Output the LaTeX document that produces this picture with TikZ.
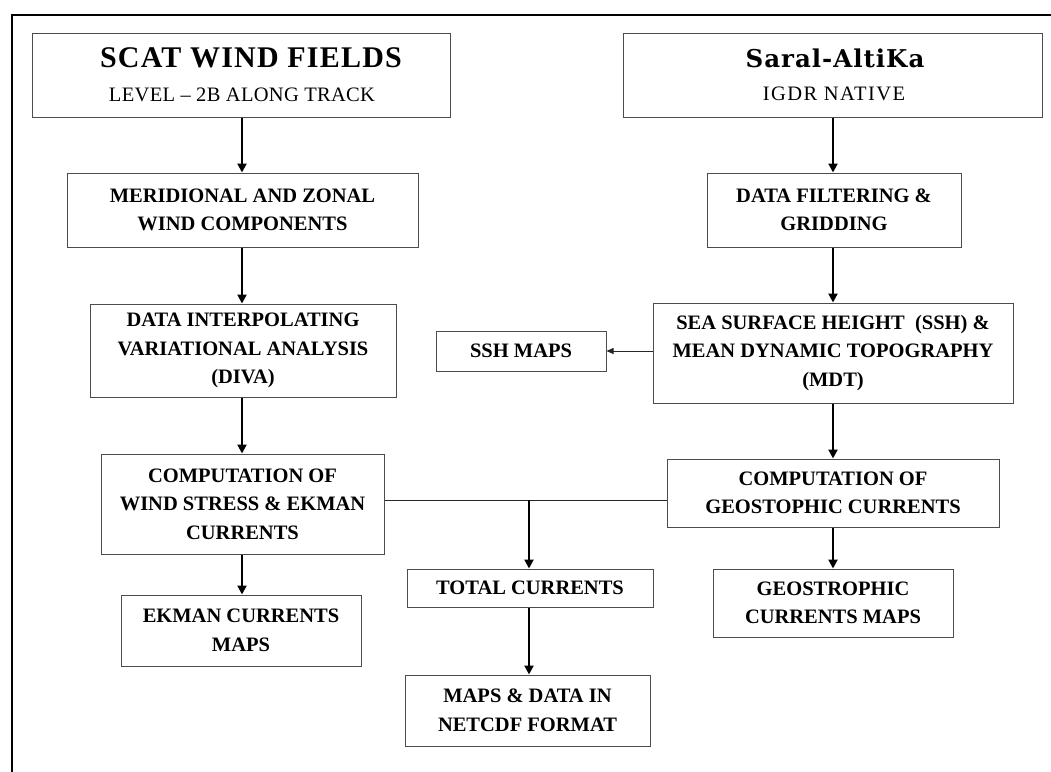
\documentclass[tikz,border=0pt]{standalone}
\usepackage{fontspec}
\setmainfont{Liberation Serif}
\newfontfamily\scattitle[LetterSpace=4]{Liberation Serif}
\newfontfamily\saraltitle[LetterSpace=4]{DejaVu Serif}
\newfontfamily\subAfont[LetterSpace=1.5]{Liberation Serif}
\newfontfamily\subBfont[LetterSpace=7]{Liberation Serif}
\usetikzlibrary{arrows.meta,calc}
\newcommand{\bodyfont}{\fontsize{20.5}{28.5}\selectfont\bfseries}
\tikzset{
  box/.style={draw=black!70, line width=1pt, inner sep=0pt, align=center, font=\bodyfont},
  arr/.style={line width=2.2pt, -{Triangle[width=9pt,length=9pt]}},
  link/.style={line width=1pt, draw=black!85},
  thinarr/.style={link, -{Triangle[width=6pt,length=7pt]}},
  frame/.style={line width=2.5pt, draw=black},
}
\begin{document}
\begin{tikzpicture}[x=1pt,y=-1pt]
\useasboundingbox (0,0) rectangle (1051,771);
% outer frame
\coordinate (fTR) at (1065,15);
\coordinate (fTL) at (12,15);
\coordinate (fBL) at (12,785);
\draw[frame] (fTR) -- (fTL) -- (fBL);

% column guides
\coordinate (lx) at (242,0);
\coordinate (rx) at (833,0);
\coordinate (mx) at (529,0);
\coordinate (hy) at (0,500);

% top boxes
\node[box, minimum width=418pt, minimum height=84pt] (scat) at (241,75) {};
\node[anchor=base, font=\scattitle\fontsize{30}{30}\selectfont\bfseries] (scatT) at (251,67) {SCAT WIND FIELDS};
\node[anchor=base, font=\subAfont\fontsize{20.5}{24}\selectfont] (scatS) at (242,101) {LEVEL – 2B ALONG TRACK};

\node[box, minimum width=419pt, minimum height=84pt] (saral) at (832.5,75) {};
\node[anchor=base, font=\saraltitle\fontsize{24.5}{26}\selectfont\bfseries] (saralT) at (835,67) {Saral-AltiKa};
\node[anchor=base, font=\subBfont\fontsize{20.5}{24}\selectfont] (saralS) at (834,100) {IGDR NATIVE};

% left column
\node[box, minimum width=351pt, minimum height=74pt] (mer) at (242.5,210) {MERIDIONAL AND ZONAL\\WIND COMPONENTS};
\node[box, minimum width=306pt, minimum height=93pt] (diva) at (243,350.5) {DATA INTERPOLATING\\VARIATIONAL ANALYSIS\\(DIVA)};
\node[box, minimum width=283pt, minimum height=100pt] (ekc) at (242.5,504) {COMPUTATION OF\\WIND STRESS \& EKMAN\\CURRENTS};
\node[box, minimum width=240pt, minimum height=71pt] (ekm) at (241,630.5) {EKMAN CURRENTS\\MAPS};

% right column
\node[box, minimum width=254pt, minimum height=74pt] (df) at (834,210) {DATA FILTERING \&\\GRIDDING};
\node[box, minimum width=360pt, minimum height=100pt] (ssh) at (833,353) {SEA SURFACE HEIGHT~ (SSH) \&\\MEAN DYNAMIC TOPOGRAPHY\\(MDT)};
\node[box, minimum width=170pt, minimum height=40pt] (sshm) at (521,351) {SSH MAPS};
\node[box, minimum width=332pt, minimum height=68pt] (geoc) at (833,493) {COMPUTATION OF\\GEOSTOPHIC CURRENTS};
\node[box, minimum width=240pt, minimum height=68pt] (geom) at (833,603) {GEOSTROPHIC\\CURRENTS MAPS};

% middle column
\node[box, minimum width=246pt, minimum height=38pt] (tc) at (530,588) {TOTAL CURRENTS};
\node[box, minimum width=245pt, minimum height=71pt] (nc) at (527.5,710.5) {MAPS \& DATA IN\\NETCDF FORMAT};

% arrows left
\draw[arr] (scat.south -| lx) -- (mer.north -| lx);
\draw[arr] (mer.south -| lx) -- (diva.north -| lx);
\draw[arr] (diva.south -| lx) -- (ekc.north -| lx);
\draw[arr] (ekc.south -| lx) -- (ekm.north -| lx);
% arrows right
\draw[arr] (saral.south -| rx) -- (df.north -| rx);
\draw[arr] (df.south -| rx) -- (ssh.north -| rx);
\draw[arr] (ssh.south -| rx) -- (geoc.north -| rx);
\draw[arr] (geoc.south -| rx) -- (geom.north -| rx);
\draw[thinarr] (ssh.west |- sshm.east) -- (sshm.east);
% merge
\draw[link] (ekc.east |- hy) -- (geoc.west |- hy);
\draw[arr] (mx |- hy) -- (tc.north -| mx);
\draw[arr] (tc.south -| mx) -- (nc.north -| mx);
\end{tikzpicture}
\end{document}
